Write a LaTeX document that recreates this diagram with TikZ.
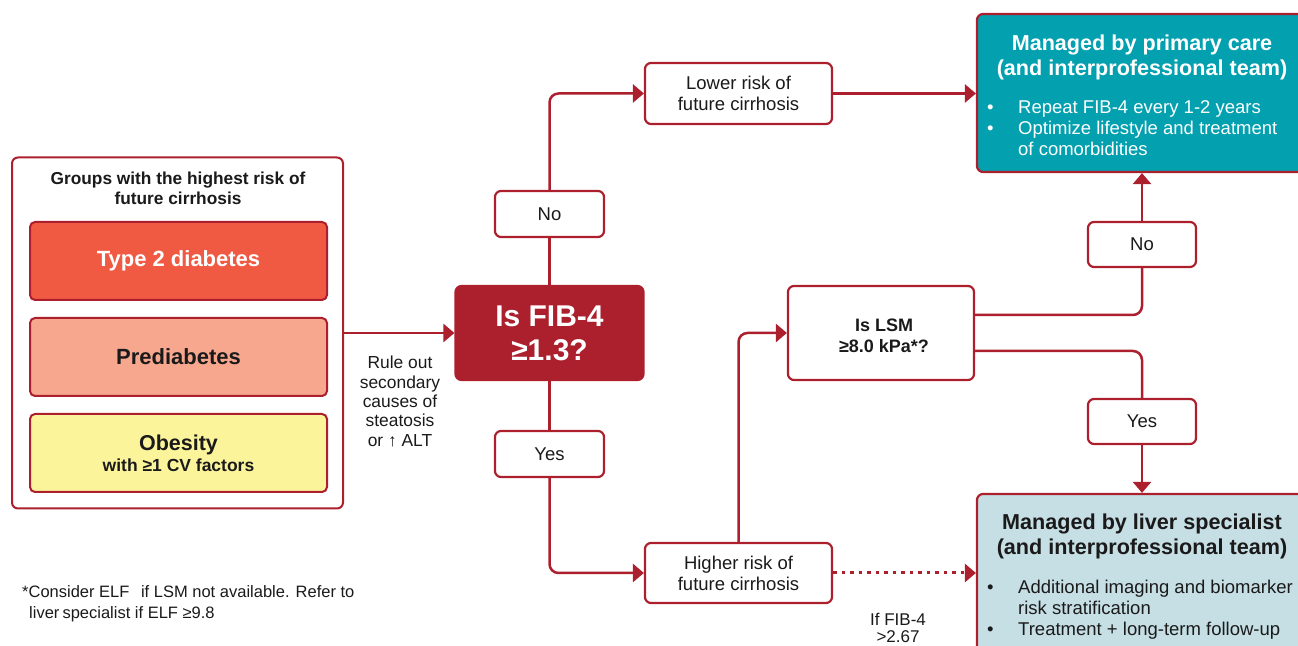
\documentclass[tikz,border=0pt]{standalone}
\usepackage{fontspec}
\setmainfont{Liberation Sans}
\usetikzlibrary{arrows.meta}
\definecolor{crimson}{HTML}{AC1F2D}
\definecolor{tomato}{HTML}{F15A42}
\definecolor{salmon}{HTML}{F6A78E}
\definecolor{butter}{HTML}{FCF49B}
\definecolor{teal}{HTML}{03A0AF}
\definecolor{paleblue}{HTML}{C6DFE5}
\definecolor{ink}{HTML}{1A1A1A}
\tikzset{
  box/.style={draw=crimson, line width=2.2pt, rounded corners=6pt, fill=white,
    inner sep=0pt, align=center, text=ink},
  groupbox/.style={box, line width=2pt, rounded corners=5pt},
  conn/.style={draw=crimson, line width=2.5pt, rounded corners=9pt},
  arr/.style={conn, -{Triangle[length=11pt,width=18pt]}},
  dotarr/.style={arr, rounded corners=0pt, line width=3pt, dash pattern=on 3.5pt off 5pt},
  reg/.style={font=\fontsize{18.5}{21}\selectfont},
  small/.style={font=\fontsize{17.4}{19.3}\selectfont},
  note/.style={font=\fontsize{16.5}{20}\selectfont},
  headline/.style={align=center, font=\fontsize{21.6}{25}\selectfont\bfseries},
}
\begin{document}
\begin{tikzpicture}[x=1pt,y=1pt]
\useasboundingbox (0,0) rectangle (1298,645);
\clip (0,0) rectangle (1298,645);

% risk groups panel
\node[box, line width=2pt, minimum width=331pt, minimum height=351pt] (group) at (177.5,312) {};
\node[align=center, text=ink, font=\fontsize{17.3}{20}\selectfont\bfseries] (grouptitle) at (178,457)
  {Groups with the highest risk of\\future cirrhosis};
\node[groupbox, fill=tomato, text=white, minimum width=297pt, minimum height=78pt,
  font=\fontsize{22}{24}\selectfont\bfseries] (t2d) at (178.5,384) {Type 2 diabetes};
\node[groupbox, fill=salmon, minimum width=297pt, minimum height=78pt,
  font=\fontsize{22}{24}\selectfont\bfseries] (pre) at (178.5,288) {Prediabetes};
\node[groupbox, fill=butter, minimum width=297pt, minimum height=78pt,
  font=\fontsize{17.5}{21}\selectfont\bfseries] (obe) at (178.5,192)
  {{\fontsize{21.5}{21}\selectfont Obesity}\\with ≥1 CV factors};

% first decision
\node[box, draw=crimson, fill=crimson, text=white, minimum width=188pt, minimum height=94pt,
  font=\fontsize{30}{34}\selectfont\bfseries] (fib) at (549.5,312) {Is FIB-4\\≥1.3?};
\node[small, align=center, text=ink] (ruleout) at (400,243.5)
  {Rule out\\secondary\\causes of\\steatosis\\or ↑ ALT};

\node[box, reg, minimum width=109pt, minimum height=46pt] (noA) at (549.5,431) {No};
\node[box, reg, minimum width=109pt, minimum height=46pt] (yesA) at (549.5,191) {Yes};

\node[box, reg, minimum width=187pt, minimum height=61pt] (lower) at (738.5,551.5)
  {Lower risk of\\future cirrhosis};
\node[box, reg, minimum width=187pt, minimum height=60pt] (higher) at (738.5,72)
  {Higher risk of\\future cirrhosis};

% second decision
\node[box, minimum width=186pt, minimum height=94pt] (lsm) at (881,312) {};
\node[align=center, text=ink, font=\fontsize{18}{21}\selectfont\bfseries] (lsmtext) at (884,309.5)
  {Is LSM\\≥8.0 kPa*?};

\node[box, reg, minimum width=108pt, minimum height=45pt] (noB) at (1142,400.5) {No};
\node[box, reg, minimum width=108pt, minimum height=45pt] (yesB) at (1142,223.5) {Yes};

% outcomes
\node[box, fill=teal, minimum width=333pt, minimum height=158pt] (primary) at (1143.5,552) {};
\node[headline, text=white] (primarytitle) at (1142,587.5)
  {Managed by primary care\\(and interprofessional team)};
\node[anchor=north west, inner sep=0pt, text=white, reg] (primarylist) at (987,546.1)
  {\begin{tabular}{@{}p{31pt}@{}l@{}}
   • & Repeat FIB-4 every 1-2 years\\
   • & Optimize lifestyle and treatment\\
     & of comorbidities
   \end{tabular}};

\node[box, fill=paleblue, minimum width=333pt, minimum height=166pt] (liver) at (1143.5,68) {};
\node[headline, text=ink] (livertitle) at (1142,108.5)
  {Managed by liver specialist\\(and interprofessional team)};
\node[anchor=north west, inner sep=0pt, text=ink, reg] (liverlist) at (987,66.1)
  {\begin{tabular}{@{}p{31pt}@{}l@{}}
   • & Additional imaging and biomarker\\
     & risk stratification\\
   • & Treatment + long-term follow-up
   \end{tabular}};

\node[align=center, text=ink, font=\fontsize{17}{17}\selectfont] (cutoff) at (898,17.5) {If FIB-4\\>2.67};

% footnote
\node[note, anchor=base west, inner sep=0pt, text=ink] (foot1) at (22,47)
  {*Consider ELF\hspace{7pt} if LSM not available. Refer to};
\node[note, anchor=base west, inner sep=0pt, text=ink] (foot2) at (29,27)
  {liver\hspace{-1.5pt} specialist if ELF ≥9.8};

% connectors
\draw[arr] (group.east) -- (fib.west);
\draw[conn] (fib.north) -- (noA.south);
\draw[arr] (noA.north) |- (lower.west);
\draw[arr] (lower.east) -- (lower.east -| primary.west);
\draw[conn] (fib.south) -- (yesA.north);
\draw[arr] (yesA.south) |- (higher.west);
\draw[dotarr] (higher.east) -- (higher.east -| liver.west);
\draw[arr] (higher.north) |- (lsm.west);
\draw[conn] ([yshift=18pt]lsm.east) -| (noB.south);
\draw[arr] (noB.north) -- (noB.north |- primary.south);
\draw[conn] ([yshift=-18pt]lsm.east) -| (yesB.north);
\draw[arr] (yesB.south) -- (yesB.south |- liver.north);
\end{tikzpicture}
\end{document}
